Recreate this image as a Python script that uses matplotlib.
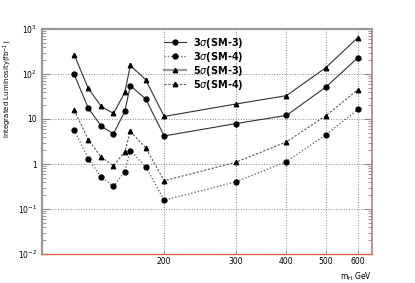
import matplotlib
matplotlib.use('Agg')
import matplotlib.pyplot as plt
from matplotlib.ticker import FixedLocator, NullLocator, LogLocator, NullFormatter

# Higgs mass points (GeV)
mass = [120, 130, 140, 150, 160, 165, 180, 200, 300, 400, 500, 600]

# integrated luminosity (fb^-1) needed
sig3_sm3 = [98, 17.5, 6.9, 4.7, 14.8, 55, 28, 4.2, 7.9, 12, 51, 230]
sig3_sm4 = [5.8, 1.29, 0.51, 0.32, 0.68, 1.98, 0.87, 0.157, 0.4, 1.13, 4.45, 16.3]
sig5_sm3 = [270, 48, 19, 13.3, 39, 155, 75, 11.4, 21.5, 33, 138, 645]
sig5_sm4 = [15.8, 3.5, 1.4, 0.92, 1.87, 5.3, 2.3, 0.425, 1.09, 3.1, 11.8, 45]

xticks = [200, 300, 400, 500, 600]
yticks = [1e-2, 1e-1, 1, 10, 1e2, 1e3]
ylabels = ['$10^{-2}$', '$10^{-1}$', '1', '10', '$10^{2}$', '$10^{3}$']

fig = plt.figure(figsize=(4.15, 2.83), dpi=100)
ax = fig.add_axes([42 / 415, 1 - 254 / 283, 330 / 415, 225 / 283])

ax.plot(mass, sig3_sm3, '-', color='#333333', lw=0.8, marker='o', ms=3.5,
        mfc='black', mec='black', label=r'3$\sigma$(SM-3)')
ax.plot(mass, sig3_sm4, ':', color='#555555', lw=0.9, marker='o', ms=3.5,
        mfc='black', mec='black', label=r'3$\sigma$(SM-4)')
ax.plot(mass, sig5_sm3, '-', color='#333333', lw=0.8, marker='^', ms=3.2,
        mfc='black', mec='black', label=r'5$\sigma$(SM-3)')
ax.plot(mass, sig5_sm4, '--', color='#555555', lw=0.8, dashes=(2, 1.5), marker='^',
        ms=3.2, mfc='black', mec='black', label=r'5$\sigma$(SM-4)')

ax.set_xscale('log')
ax.set_yscale('log')
ax.set_xlim(100, 650)
ax.set_ylim(1e-2, 1e3)

ax.xaxis.set_major_locator(FixedLocator(xticks))
ax.xaxis.set_minor_locator(NullLocator())
ax.set_xticklabels([str(t) for t in xticks])
ax.yaxis.set_major_locator(FixedLocator(yticks))
ax.set_yticklabels(ylabels)
ax.yaxis.set_minor_locator(LogLocator(base=10, subs=range(2, 10)))
ax.yaxis.set_minor_formatter(NullFormatter())

ax.tick_params(axis='both', which='both', direction='in', labelsize=5.5,
               color='#888888', right=True)
ax.tick_params(axis='y', which='major', length=6, width=0.8)
ax.tick_params(axis='y', which='minor', length=3, width=0.6)
ax.tick_params(axis='x', which='major', length=3, width=0.6, pad=2)

ax.grid(True, which='major', linestyle=':', color='#888888', lw=0.7)

for side in ['left', 'top']:
    ax.spines[side].set_color('#999999')
    ax.spines[side].set_linewidth(1.6)
ax.spines['right'].set_color('#b08080')
ax.spines['right'].set_linewidth(1.2)
ax.spines['bottom'].set_color('#e06060')
ax.spines['bottom'].set_linewidth(1.0)

ax.set_ylabel('Integrated Luminosity(fb$^{-1}$)', fontsize=5.0)
ax.yaxis.set_label_coords(-0.085, 0.735)
ax.text(1.0, -0.075, '$\\mathrm{m_{H}}$ GeV', transform=ax.transAxes,
        ha='right', va='top', fontsize=5.5)

leg = ax.legend(loc='upper left', bbox_to_anchor=(0.35, 1.0), frameon=False,
                handlelength=2.2, labelspacing=0.0, borderpad=0.2,
                prop={'weight': 'bold', 'size': 7})
# the 5 sigma (SM-3) legend line is drawn thicker and grey in the original
leg.get_lines()[2].set_color('#999999')
leg.get_lines()[2].set_linewidth(1.6)

fig.savefig('out.png', dpi=100)
